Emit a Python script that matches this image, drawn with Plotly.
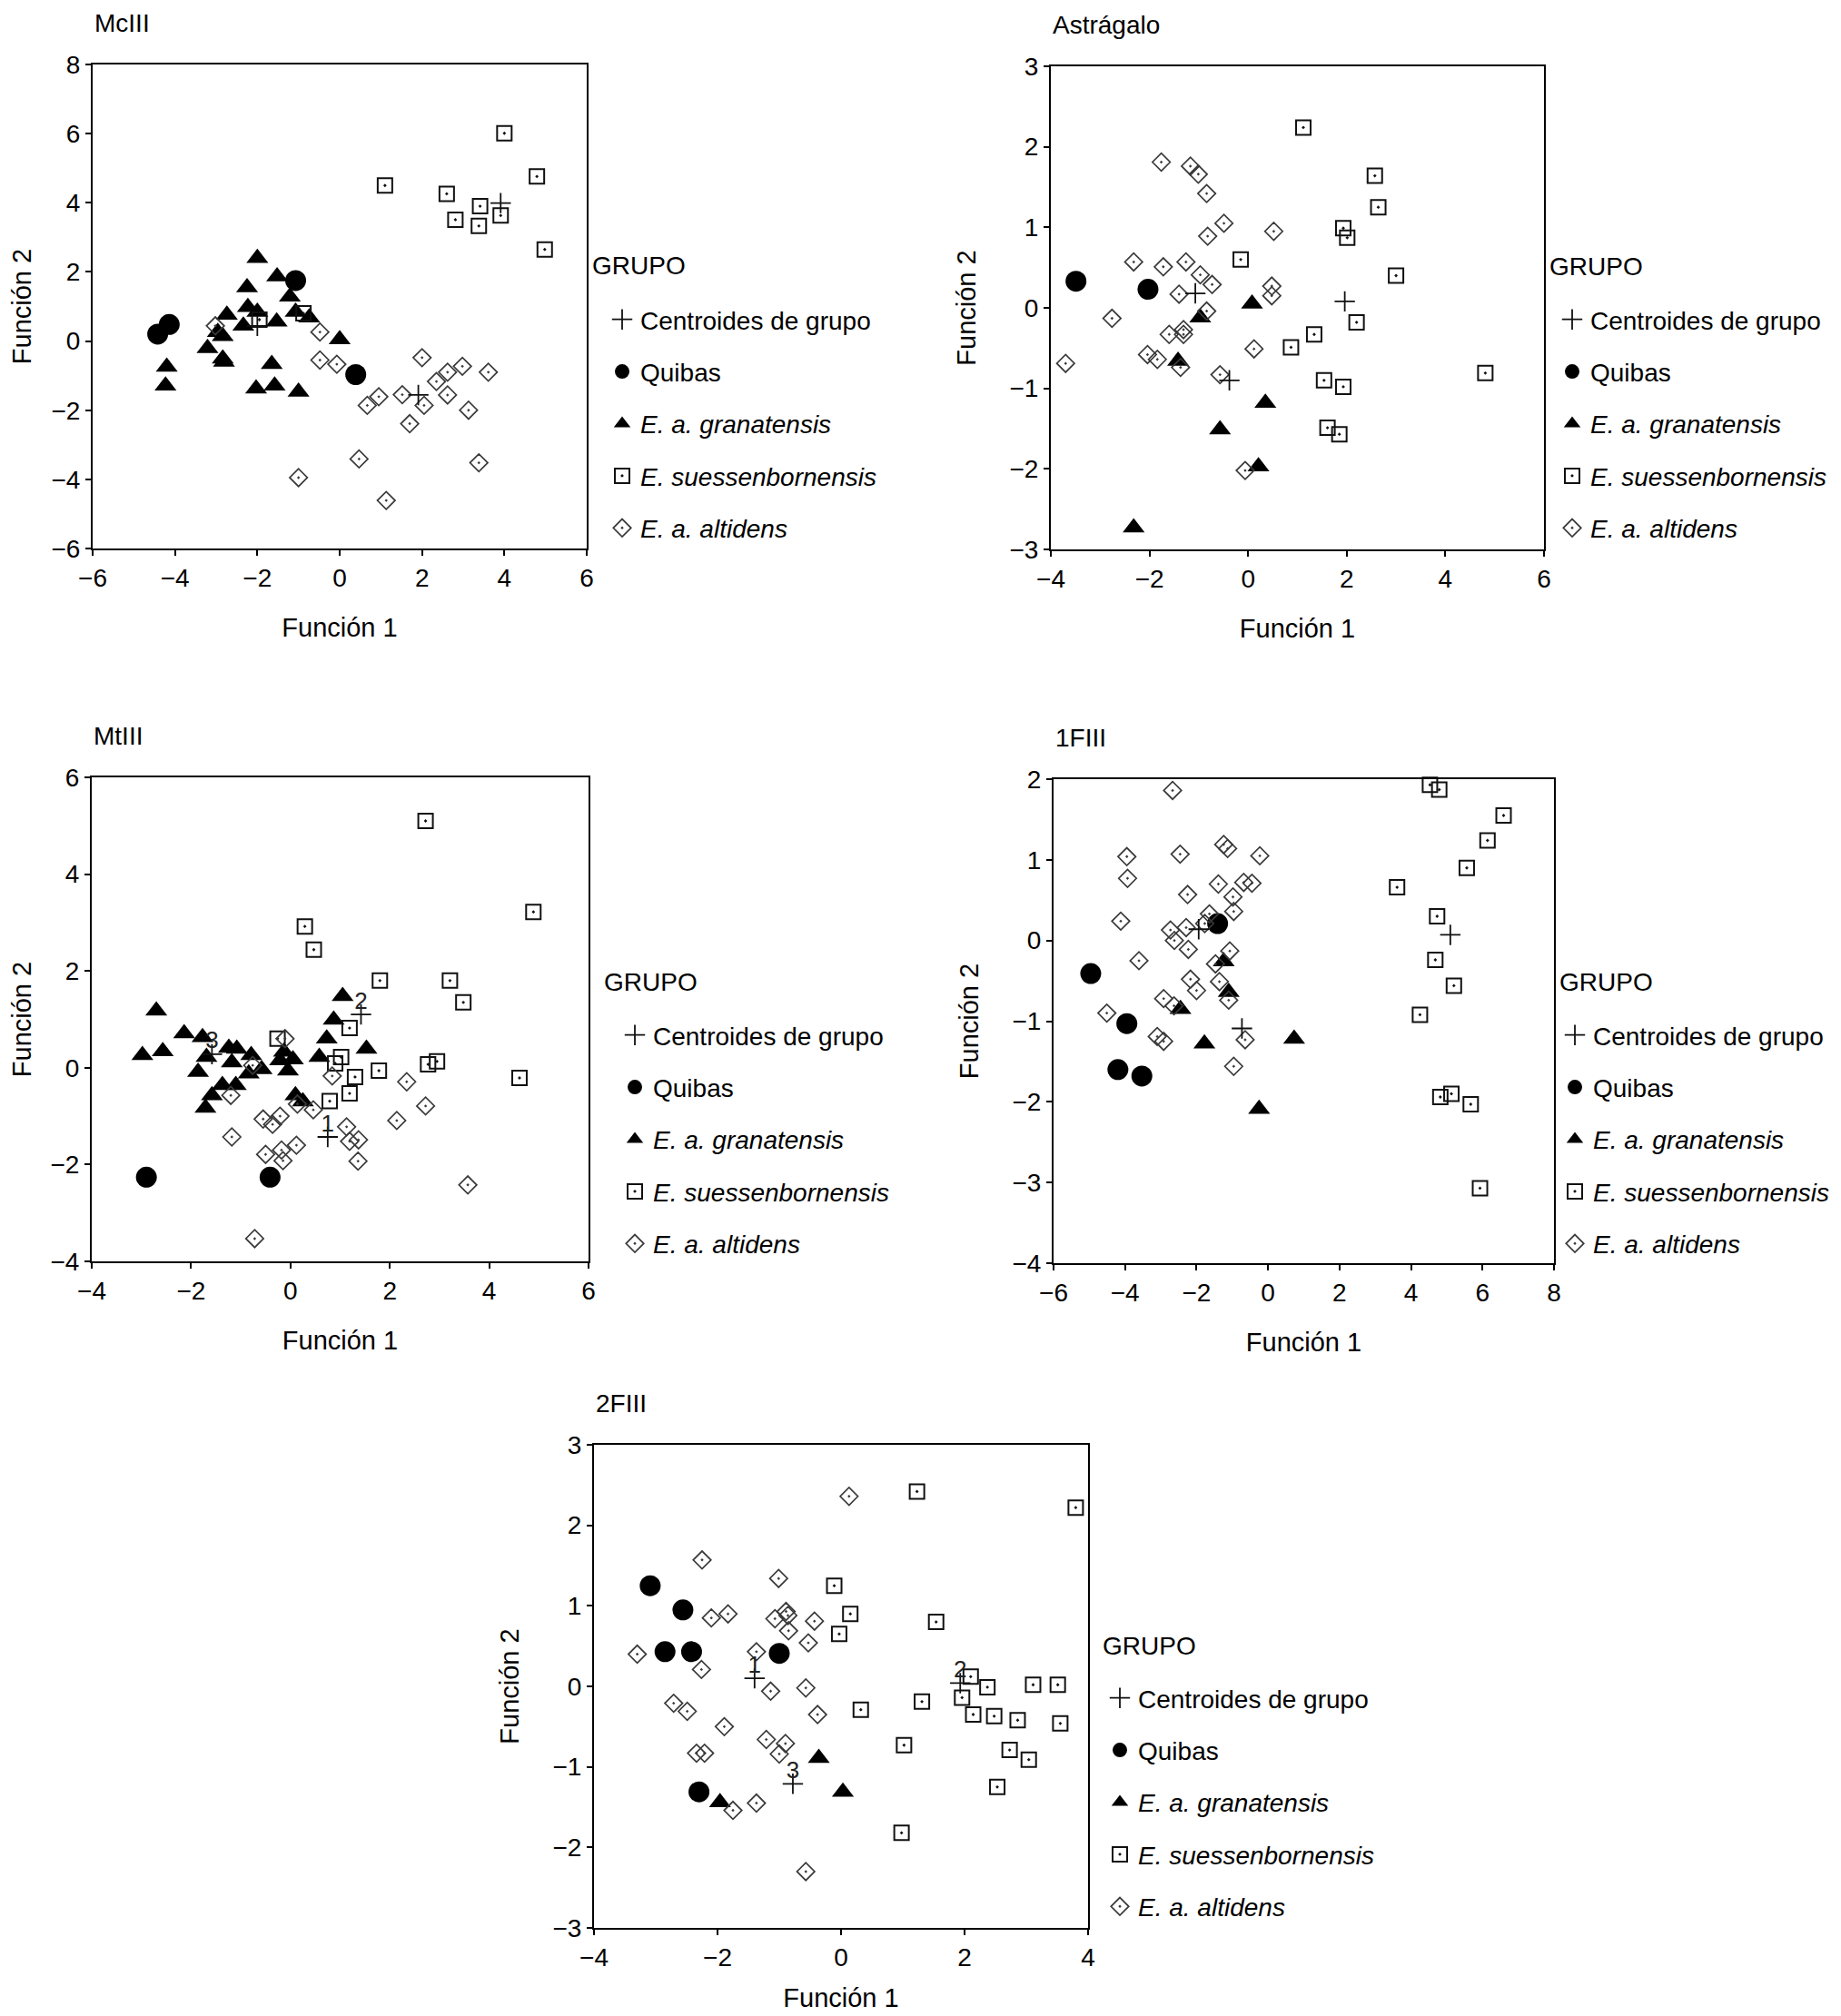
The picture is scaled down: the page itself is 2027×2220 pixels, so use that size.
import plotly.graph_objects as go

FONT = "Liberation Sans, Arial, Helvetica, sans-serif"
W, H = 2027, 2220

# ---- McIII ----
mc3_quibas_x = [-4.42, -4.14, -1.07, 0.39]
mc3_quibas_y = [0.20, 0.48, 1.75, -0.97]
mc3_gran_x = [-2.0, -2.25, -1.52, -1.21, -2.23, -2.0, -2.74, -1.07, -0.74, -2.34, -1.53, -2.96,
              -2.84, 0.0, -3.21, -2.84, -2.81, -4.2, -1.65, -4.23, -2.03, -1.58, -1.0]
mc3_gran_y = [2.40, 1.55, 1.87, 1.28, 0.98, 0.84, 0.76, 0.84, 0.68, 0.44, 0.56, 0.26,
              0.14, 0.05, -0.21, -0.51, -0.60, -0.75, -0.67, -1.29, -1.38, -1.29, -1.47]
mc3_suess_x = [4.0, 1.1, 2.6, 3.41, 2.81, 3.91, 3.38, 4.79, 4.98, -1.95, -0.88]
mc3_suess_y = [6.01, 4.50, 4.26, 3.90, 3.51, 3.63, 3.33, 4.76, 2.65, 0.62, 0.80]
mc3_alt_x = [-3.02, -0.48, -0.48, -0.07, 2.0, 2.62, 2.98, 3.61, 2.35, 2.62, 0.95, 0.67,
             1.52, 2.05, 3.13, 1.70, 0.47, 3.38, -1.0, 1.13]
mc3_alt_y = [0.44, 0.26, -0.55, -0.67, -0.48, -0.90, -0.73, -0.90, -1.17, -1.56, -1.61, -1.86,
             -1.55, -1.86, -2.0, -2.39, -3.41, -3.52, -3.95, -4.61]
mc3_cent_x = [-2.0, 3.91, 1.91]
mc3_cent_y = [0.44, 3.99, -1.56]
mc3_cent_lab = ["", "", ""]

# ---- Astrágalo ----
ast_quibas_x = [-3.49, -2.03]
ast_quibas_y = [0.33, 0.23]
ast_gran_x = [0.08, -0.97, -1.42, 0.35, -0.57, 0.21, -2.32]
ast_gran_y = [0.05, -0.12, -0.66, -1.18, -1.51, -1.97, -2.73]
ast_suess_x = [1.12, 2.57, 2.64, 1.93, 2.01, -0.15, 3.0, 2.2, 1.34, 0.87, 1.54, 1.93, 1.61, 1.85, 4.81]
ast_suess_y = [2.24, 1.64, 1.25, 0.99, 0.87, 0.60, 0.40, -0.18, -0.33, -0.49, -0.90, -0.98, -1.49, -1.57, -0.81]
ast_alt_x = [-1.76, -1.17, -1.01, -0.84, -0.49, -0.82, 0.52, -2.32, -1.72, -1.26, -0.97, -0.73, -1.40,
             0.48, 0.48, -0.84, -2.76, -1.31, -1.31, -1.60, -2.04, -1.84, -1.37, 0.12, -0.57, -3.70, -0.06]
ast_alt_y = [1.81, 1.76, 1.66, 1.42, 1.05, 0.89, 0.95, 0.57, 0.51, 0.57, 0.41, 0.29, 0.17,
             0.27, 0.15, -0.04, -0.13, -0.27, -0.33, -0.33, -0.58, -0.64, -0.74, -0.51, -0.83, -0.69, -2.02]
ast_cent_x = [-1.07, 1.96, -0.38]
ast_cent_y = [0.18, 0.08, -0.90]
ast_cent_lab = ["", "", ""]

# ---- MtIII ----
mt3_quibas_x = [-2.90, -0.41]
mt3_quibas_y = [-2.26, -2.26]
mt3_gran_x = [-2.70, -2.14, -2.98, -2.57, -1.77, -1.69, -1.24, -1.08, -1.18, -1.86, -1.37, -1.10, -1.58,
              -1.71, -0.79, -0.58, -0.84, -0.21, -0.13, 0.05, -0.05, 0.10, 0.25, 0.58, 0.73, 0.87, 1.05, 1.53]
mt3_gran_y = [1.18, 0.71, 0.26, 0.34, 0.63, 0.22, 0.41, 0.39, 0.11, -0.09, -0.36, -0.36, -0.57,
              -0.83, 0.26, -0.03, -0.12, 0.15, 0.33, 0.17, -0.06, -0.57, -0.70, 0.22, 0.60, 0.99, 1.48, 0.39]
mt3_suess_x = [2.72, 4.89, 0.29, 0.47, 1.80, 3.21, 3.48, 1.19, -0.26, 1.02, 0.90, 1.78, 1.30, 2.95,
               2.77, 4.61, 1.19, 0.79]
mt3_suess_y = [5.10, 3.22, 2.92, 2.44, 1.80, 1.80, 1.35, 0.82, 0.60, 0.22, 0.09, -0.06, -0.19, 0.13,
               0.07, -0.21, -0.53, -0.69]
mt3_alt_x = [-0.11, -0.76, 0.84, 2.34, 2.72, 2.14, -1.20, 0.46, 0.14, -0.55, -0.21, -0.36, -1.18, 1.13,
             1.19, 1.37, 0.12, -0.18, -0.50, -0.15, 1.36, 3.57, -0.72]
mt3_alt_y = [0.60, 0.05, -0.17, -0.29, -0.79, -1.09, -0.57, -0.87, -0.75, -1.06, -1.00, -1.17, -1.43, -1.22,
             -1.52, -1.49, -1.60, -1.70, -1.79, -1.92, -1.93, -2.42, -3.53]
mt3_cent_x = [0.75, 1.42, -1.58]
mt3_cent_y = [-1.43, 1.10, 0.28]
mt3_cent_lab = ["1", "2", "3"]

# ---- 1FIII ----
f1_quibas_x = [-4.96, -3.95, -4.20, -3.53, -1.41]
f1_quibas_y = [-0.41, -1.03, -1.60, -1.68, 0.21]
f1_gran_x = [-1.24, -1.10, -2.45, -1.78, 0.73, -0.25]
f1_gran_y = [-0.26, -0.64, -0.85, -1.28, -1.22, -2.09]
f1_suess_x = [4.53, 4.79, 6.59, 6.14, 5.56, 3.61, 4.73, 4.68, 5.20, 4.25, 4.82, 5.13, 5.67, 5.93]
f1_suess_y = [1.93, 1.87, 1.55, 1.24, 0.90, 0.66, 0.30, -0.24, -0.56, -0.92, -1.94, -1.90, -2.03, -3.07]
f1_alt_x = [-2.67, -3.95, -2.46, -1.24, -1.13, -0.23, -3.93, -1.39, -0.68, -0.45, -2.25, -0.98, -0.96,
            -4.12, -1.64, -1.77, -2.29, -2.73, -2.62, -2.23, -1.07, -3.61, -1.47, -2.17, -1.36, -2.00,
            -2.92, -2.63, -1.10, -4.51, -3.10, -2.92, -0.64, -0.96]
f1_alt_y = [1.86, 1.04, 1.07, 1.19, 1.14, 1.05, 0.77, 0.70, 0.72, 0.71, 0.57, 0.54, 0.36,
            0.24, 0.33, 0.21, 0.16, 0.13, 0.00, -0.11, -0.13, -0.25, -0.29, -0.48, -0.51, -0.62,
            -0.72, -0.81, -0.74, -0.90, -1.19, -1.25, -1.23, -1.56]
f1_cent_x = [-1.94, 5.10, -0.73]
f1_cent_y = [0.14, 0.07, -1.09]
f1_cent_lab = ["", "", ""]

# ---- 2FIII ----
f2_quibas_x = [-3.09, -2.56, -2.85, -2.42, -1.00, -2.30]
f2_quibas_y = [1.25, 0.95, 0.43, 0.43, 0.41, -1.31]
f2_gran_x = [-1.96, -0.36, 0.03]
f2_gran_y = [-1.44, -0.89, -1.31]
f2_suess_x = [1.23, 3.80, -0.11, 0.15, -0.03, 1.54, 2.10, 2.37, 1.96, 3.11, 3.51, 1.31, 0.32, 2.14,
              2.48, 2.86, 3.55, 1.02, 2.73, 3.04, 2.53, 0.98]
f2_suess_y = [2.42, 2.22, 1.25, 0.90, 0.65, 0.80, 0.12, -0.01, -0.14, 0.02, 0.02, -0.19, -0.29, -0.35,
              -0.37, -0.42, -0.46, -0.73, -0.79, -0.91, -1.25, -1.82]
f2_alt_x = [0.13, -2.25, -1.01, -2.10, -1.83, -1.07, -0.89, -0.86, -0.85, -0.43, -0.53, -1.37, -3.30,
            -2.26, -1.14, -0.57, -2.71, -2.49, -0.38, -1.89, -1.21, -0.90, -1.00, -2.34, -2.21, -1.37,
            -1.75, -0.57]
f2_alt_y = [2.36, 1.57, 1.34, 0.85, 0.90, 0.84, 0.93, 0.88, 0.69, 0.81, 0.54, 0.43, 0.40,
            0.21, -0.06, -0.02, -0.21, -0.31, -0.35, -0.50, -0.66, -0.71, -0.84, -0.83, -0.83, -1.45,
            -1.54, -2.30]
f2_cent_x = [-1.40, 1.93, -0.78]
f2_cent_y = [0.10, 0.04, -1.21]
f2_cent_lab = ["1", "2", "3"]

GROUP_NAMES = ["Centroides de grupo", "Quibas", "<i>E. a. granatensis</i>",
               "<i>E. suessenbornensis</i>", "<i>E. a. altidens</i>"]

# panel boxes in pixels (left, top, right, bottom); legend (grupo_x, grupo_y, text_x, first_row_y)
PANELS = [
    dict(title="McIII", box=(94, 63, 638, 596), xr=(-6, 6), xd=2, yr=(-6, 8), yd=2,
         leg=(642, 284, 697, 349), xstand=30,
         data=[(mc3_quibas_x, mc3_quibas_y), (mc3_gran_x, mc3_gran_y), (mc3_suess_x, mc3_suess_y),
               (mc3_alt_x, mc3_alt_y), (mc3_cent_x, mc3_cent_y, mc3_cent_lab)]),
    dict(title="Astrágalo", box=(1149, 65, 1692, 597), xr=(-4, 6), xd=2, yr=(-3, 3), yd=1,
         leg=(1696, 285, 1743, 349), xstand=30,
         data=[(ast_quibas_x, ast_quibas_y), (ast_gran_x, ast_gran_y), (ast_suess_x, ast_suess_y),
               (ast_alt_x, ast_alt_y), (ast_cent_x, ast_cent_y, ast_cent_lab)]),
    dict(title="MtIII", box=(93, 848, 640, 1381), xr=(-4, 6), xd=2, yr=(-4, 6), yd=2,
         leg=(655, 1074, 711, 1137), xstand=30,
         data=[(mt3_quibas_x, mt3_quibas_y), (mt3_gran_x, mt3_gran_y), (mt3_suess_x, mt3_suess_y),
               (mt3_alt_x, mt3_alt_y), (mt3_cent_x, mt3_cent_y, mt3_cent_lab)]),
    dict(title="1FIII", box=(1152, 850, 1703, 1383), xr=(-6, 8), xd=2, yr=(-4, 2), yd=1,
         leg=(1707, 1074, 1746, 1137), xstand=30,
         data=[(f1_quibas_x, f1_quibas_y), (f1_gran_x, f1_gran_y), (f1_suess_x, f1_suess_y),
               (f1_alt_x, f1_alt_y), (f1_cent_x, f1_cent_y, f1_cent_lab)]),
    dict(title="2FIII", box=(646, 1583, 1190, 2115), xr=(-4, 4), xd=2, yr=(-3, 3), yd=1,
         leg=(1204, 1804, 1245, 1867), xstand=20,
         data=[(f2_quibas_x, f2_quibas_y), (f2_gran_x, f2_gran_y), (f2_suess_x, f2_suess_y),
               (f2_alt_x, f2_alt_y), (f2_cent_x, f2_cent_y, f2_cent_lab)]),
]

MARKERS = [
    dict(symbol="circle", size=23, color="black"),
    dict(symbol="triangle-up", size=21, color="black"),
    dict(symbol="square-open-dot", size=16, color="#111111", line=dict(width=2, color="#111111")),
    dict(symbol="diamond-open-dot", size=15, color="#3a3a3a", line=dict(width=1.7, color="#3a3a3a")),
]
CENT_MARKER = dict(symbol="cross-thin-open", size=16, color="#111111", line=dict(width=1.8, color="#111111"))


def px_x(p):
    return p / W


def px_y(p):
    return 1 - p / H


fig = go.Figure()
layout = {}
annotations = []

for i, pan in enumerate(PANELS, start=1):
    sfx = "" if i == 1 else str(i)
    xa, ya = f"x{sfx}", f"y{sfx}"
    leg = "legend" if i == 1 else f"legend{i}"
    l, t, r, b = pan["box"]

    for k, (xs, ys) in enumerate(pan["data"][:4]):
        fig.add_trace(go.Scatter(
            x=xs, y=ys, mode="markers", name=GROUP_NAMES[k + 1], marker=MARKERS[k],
            xaxis=xa, yaxis=ya, legend=leg, legendgroup=f"{i}-{k + 1}", legendrank=k + 2,
            cliponaxis=False,
        ))
    cx, cy, clab = pan["data"][4]
    fig.add_trace(go.Scatter(
        x=cx, y=cy, mode="markers", name=GROUP_NAMES[0], marker=CENT_MARKER,
        xaxis=xa, yaxis=ya, legend=leg, legendgroup=f"{i}-0", legendrank=1,
    ))
    if any(clab):
        fig.add_trace(go.Scatter(
            x=cx, y=cy, mode="text", text=clab, textposition="top center",
            textfont=dict(family=FONT, size=26, color="#222222"),
            xaxis=xa, yaxis=ya, showlegend=False, hoverinfo="skip",
        ))

    axis_style = dict(
        showline=True, linecolor="black", linewidth=2, mirror=True,
        ticks="outside", ticklen=6, tickwidth=2, tickcolor="black",
        showgrid=False, zeroline=False,
        tickfont=dict(family=FONT, size=28, color="black"),
    )
    layout[f"xaxis{sfx}"] = dict(
        axis_style, domain=[px_x(l), px_x(r)], range=list(pan["xr"]), dtick=pan["xd"],
        anchor=ya,
        title=dict(text="Función 1", standoff=pan["xstand"], font=dict(family=FONT, size=29, color="black")),
    )
    layout[f"yaxis{sfx}"] = dict(
        axis_style, domain=[px_y(b), px_y(t)], range=list(pan["yr"]), dtick=pan["yd"],
        anchor=xa, title=dict(text="Función 2", standoff=28, font=dict(family=FONT, size=29, color="black")),
    )

    gx, gy, tx, row1 = pan["leg"]
    layout[leg] = dict(
        x=px_x(tx - 40), y=px_y(row1 - 30), xanchor="left", yanchor="top",
        font=dict(family=FONT, size=28, color="black"),
        tracegroupgap=18, traceorder="grouped", bgcolor="rgba(0,0,0,0)",
        itemsizing="trace",
    )
    annotations.append(dict(
        text="GRUPO", xref="paper", yref="paper", x=px_x(gx), y=px_y(gy),
        xanchor="left", yanchor="middle", showarrow=False,
        font=dict(family=FONT, size=28, color="black"),
    ))
    annotations.append(dict(
        text=pan["title"], xref=f"{xa} domain", yref=f"{ya} domain", x=0, y=1,
        xanchor="left", yanchor="top", yshift=63, showarrow=False,
        font=dict(family=FONT, size=28, color="black"),
    ))

fig.update_layout(
    width=W, height=H,
    margin=dict(l=0, r=0, t=0, b=0, autoexpand=False),
    paper_bgcolor="white", plot_bgcolor="white",
    font=dict(family=FONT, size=28, color="black"),
    annotations=annotations,
    **layout,
)

fig.write_html("out.html")
